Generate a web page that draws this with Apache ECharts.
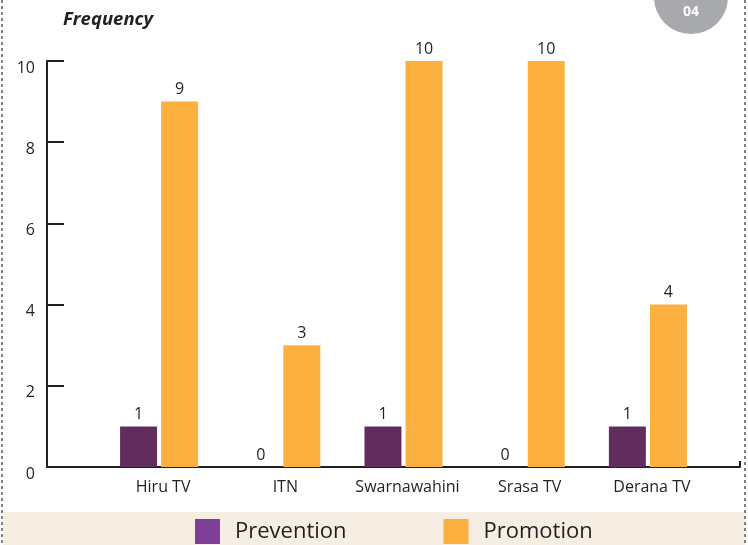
<!DOCTYPE html>
<html>
<head>
<meta charset="utf-8">
<script src="https://cdn.jsdelivr.net/npm/echarts@6/dist/echarts.min.js"></script>
<style>html,body{margin:0;padding:0;background:#fff;}#c{width:748px;height:545px;}</style>
</head>
<body>
<div id="c"></div>
<script>
var categories = ['Hiru TV', 'ITN', 'Swarnawahini', 'Srasa TV', 'Derana TV'];
var prevention = [1, 0, 1, 0, 1];
var promotion = [9, 3, 10, 10, 4];
var yTicks = [0, 2, 4, 6, 8, 10];

var FONT = '"Open Sans", "Noto Sans", sans-serif';
var TXT = '#231f20';
var chart = echarts.init(document.getElementById('c'));
var lbl = {show: true, position: 'top', distance: 4, color: TXT, fontSize: 16, fontFamily: FONT};
chart.setOption({
  animation: false,
  graphic: [
    {type: 'rect', shape: {x: 3, y: 512, width: 742, height: 33}, style: {fill: '#f6eee2'}, z: -10},
    {type: 'line', shape: {x1: 2, y1: 0, x2: 2, y2: 545}, style: {stroke: '#808285', lineWidth: 2, lineDash: [3, 3]}},
    {type: 'line', shape: {x1: 745, y1: 0, x2: 745, y2: 545}, style: {stroke: '#808285', lineWidth: 2, lineDash: [3, 3]}},
    {type: 'circle', shape: {cx: 691, cy: -3, r: 37}, style: {fill: '#a7a9ac'}},
    {type: 'text', x: 691, y: 12, style: {text: '04', fill: '#fff', font: 'bold 14px ' + FONT, align: 'center', verticalAlign: 'middle'}},
    {type: 'text', x: 63, y: 20, style: {text: 'Frequency', fill: TXT, font: 'italic bold 18.5px ' + FONT, align: 'left', verticalAlign: 'middle'}}
  ],
  legend: {
    bottom: -4, left: 190,
    itemWidth: 25, itemHeight: 25, itemGap: 97,
    textStyle: {color: TXT, fontSize: 22, fontFamily: FONT, padding: [0, 0, 0, 10]},
    data: [
      {name: 'Prevention', icon: 'rect', itemStyle: {color: '#7e3f98'}},
      {name: 'Promotion', icon: 'rect', itemStyle: {color: '#fbb040'}}
    ]
  },
  grid: [
    {left: 98, width: 611, top: 61, bottom: 78},
    {left: 47, right: 8, top: 61, bottom: 78}
  ],
  xAxis: [
    {type: 'category', gridIndex: 0, data: categories,
      axisLine: {show: false}, axisTick: {show: false},
      axisLabel: {interval: 0, color: TXT, fontSize: 16, fontFamily: FONT, margin: 12, padding: [0, 0, 0, 8]}},
    {type: 'value', gridIndex: 1, min: 0, max: 1, interval: 1,
      axisLine: {show: true, lineStyle: {color: TXT, width: 2}},
      axisTick: {show: true, inside: true, length: 6, lineStyle: {color: TXT, width: 2}},
      axisLabel: {show: false}, splitLine: {show: false}}
  ],
  yAxis: [
    {type: 'value', gridIndex: 0, min: 0, max: 10, interval: 2, show: false},
    {type: 'value', gridIndex: 1, min: 0, max: 10, interval: 2,
      axisLine: {show: true, lineStyle: {color: TXT, width: 2}},
      axisTick: {show: true, inside: true, length: 17, lineStyle: {color: TXT, width: 2}},
      axisLabel: {color: TXT, fontSize: 16, fontFamily: FONT, margin: 12, verticalAlign: 'top', lineHeight: 14,
        formatter: function (v) { return yTicks.indexOf(v) >= 0 ? String(v) : ''; }},
      splitLine: {show: false}}
  ],
  series: [
    {name: 'Prevention', type: 'bar', xAxisIndex: 0, yAxisIndex: 0, data: prevention,
      barWidth: 37, barGap: '11%', itemStyle: {color: '#612d5e'}, label: lbl},
    {name: 'Promotion', type: 'bar', xAxisIndex: 0, yAxisIndex: 0, data: promotion,
      barWidth: 37, barGap: '11%', itemStyle: {color: '#fbb040'}, label: lbl}
  ]
});
</script>
</body>
</html>
